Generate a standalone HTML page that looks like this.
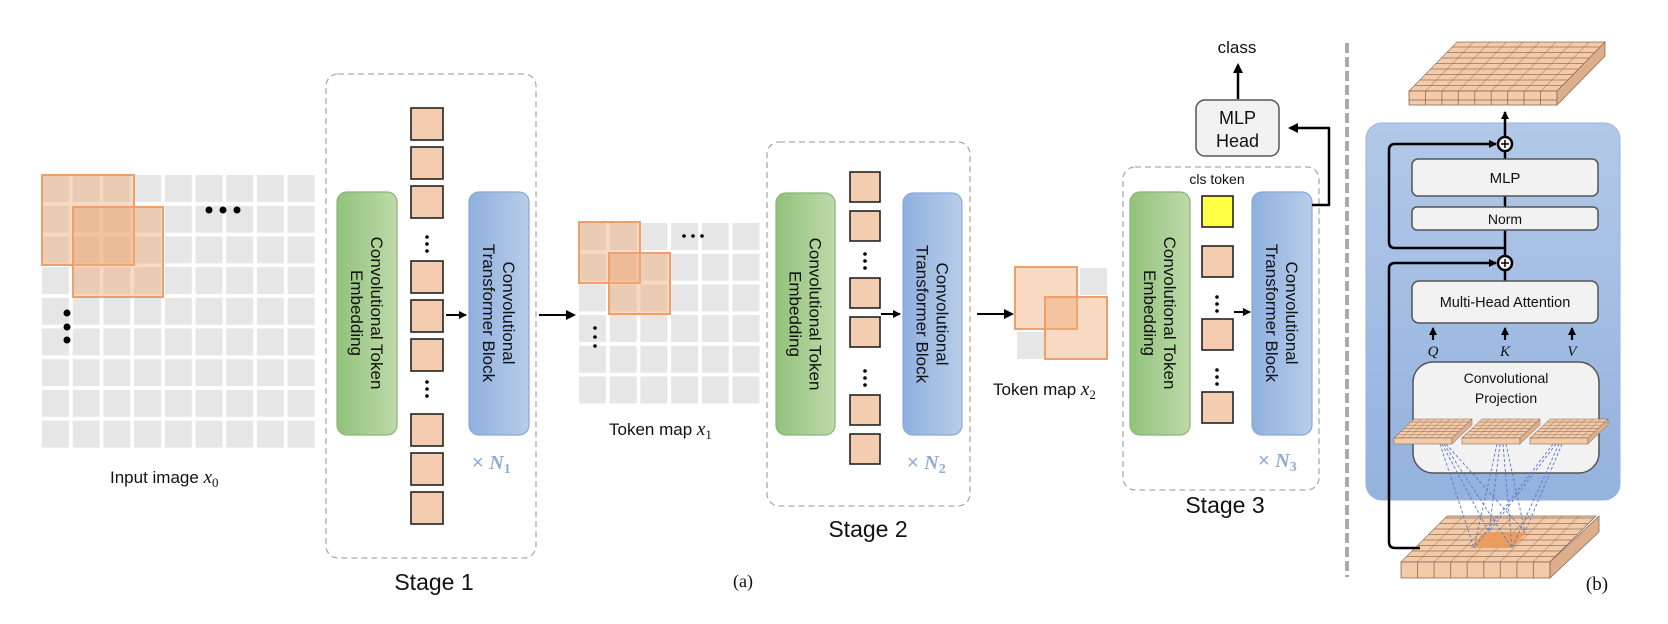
<!DOCTYPE html>
<html><head><meta charset="utf-8"><style>
html,body{margin:0;padding:0;background:#fff;}
svg{display:block;}
text{font-family:"Liberation Sans",sans-serif;fill:#111;}
.serif{font-family:"Liberation Serif",serif;}
</style></head><body>
<svg width="1668" height="624" viewBox="0 0 1668 624" xmlns="http://www.w3.org/2000/svg">
<defs>
<pattern id="gcell" x="42" y="175" width="30.7" height="30.7" patternUnits="userSpaceOnUse"><rect x="0" y="0" width="27" height="27" fill="#e6e6e6"/></pattern>
<pattern id="gcell2" x="579" y="223" width="30.7" height="30.7" patternUnits="userSpaceOnUse"><rect x="0" y="0" width="27" height="27" fill="#e6e6e6"/></pattern>
<linearGradient id="gg" x1="0" x2="1" y1="0" y2="0"><stop offset="0" stop-color="#92c27c"/><stop offset="1" stop-color="#bedaa9"/></linearGradient>
<linearGradient id="bg" x1="0" x2="1" y1="0" y2="0"><stop offset="0" stop-color="#8eb0de"/><stop offset="1" stop-color="#b8cde9"/></linearGradient>
<linearGradient id="pg" x1="0" x2="0" y1="0" y2="1"><stop offset="0" stop-color="#b2c8e8"/><stop offset="1" stop-color="#93b2de"/></linearGradient>
<marker id="ah" markerWidth="10" markerHeight="10" refX="8" refY="5" orient="auto" markerUnits="userSpaceOnUse"><path d="M0,0 L10,5 L0,10 z" fill="#000"/></marker>
<marker id="ahs" markerWidth="8" markerHeight="8" refX="7" refY="4" orient="auto" markerUnits="userSpaceOnUse"><path d="M0,0 L8,4 L0,8 z" fill="#000"/></marker>
<pattern id="iso9" x="0" y="0" width="16.5" height="5.5" patternUnits="userSpaceOnUse"><rect width="16.5" height="5.5" fill="#f4cba9" stroke="#8a6a55" stroke-width="0.6"/></pattern>
<pattern id="isoS" x="0" y="0" width="7.25" height="3.2" patternUnits="userSpaceOnUse"><rect width="7.25" height="3.2" fill="#f4cba9" stroke="#8a6a55" stroke-width="0.5"/></pattern>
<pattern id="frontT" x="1409" y="0" width="16.44" height="20" patternUnits="userSpaceOnUse"><rect width="16.44" height="20" fill="#f4cba9" stroke="#8a6a55" stroke-width="0.8"/></pattern>
<pattern id="frontB" x="1401" y="0" width="16.55" height="20" patternUnits="userSpaceOnUse"><rect width="16.55" height="20" fill="#f4cba9" stroke="#8a6a55" stroke-width="0.8"/></pattern>
</defs>

<!-- Input image grid -->
<rect x="42" y="175" width="273" height="273" fill="url(#gcell)"/>
<rect x="42" y="175" width="92" height="90" fill="rgba(240,170,120,0.45)" stroke="#eea06c" stroke-width="2"/>
<rect x="73" y="207" width="90" height="90" fill="rgba(240,170,120,0.45)" stroke="#eea06c" stroke-width="2"/>
<circle cx="209" cy="210" r="3.5" fill="#000"/><circle cx="223" cy="210" r="3.5" fill="#000"/><circle cx="237" cy="210" r="3.5" fill="#000"/>
<circle cx="67" cy="313" r="3.5" fill="#000"/><circle cx="67" cy="327" r="3.5" fill="#000"/><circle cx="67" cy="340" r="3.5" fill="#000"/>
<text x="110" y="483" font-size="17">Input image <tspan class="serif" font-style="italic" font-size="19">x</tspan><tspan class="serif" font-size="13" dy="4">0</tspan></text>

<!-- Stage 1 -->
<rect x="326" y="74" width="210" height="484" rx="12" fill="none" stroke="#aaa" stroke-width="1.3" stroke-dasharray="6 4"/>
<rect x="337" y="192" width="60" height="243" rx="10" fill="url(#gg)" stroke="#86b673" stroke-width="1.2"/>
<g transform="translate(367,313) rotate(90)" font-size="17" text-anchor="middle"><text x="0" y="-4">Convolutional Token</text><text x="0" y="16">Embedding</text></g>
<g fill="#f4ccb0" stroke="#222" stroke-width="1.6">
<rect x="411" y="108" width="32" height="32"/><rect x="411" y="147" width="32" height="32"/><rect x="411" y="186" width="32" height="32"/>
<rect x="411" y="261" width="32" height="32"/><rect x="411" y="300" width="32" height="32"/><rect x="411" y="339" width="32" height="32"/>
<rect x="411" y="414" width="32" height="32"/><rect x="411" y="453" width="32" height="32"/><rect x="411" y="492" width="32" height="32"/>
</g>
<g fill="#000"><circle cx="427" cy="237" r="1.8"/><circle cx="427" cy="244" r="1.8"/><circle cx="427" cy="251" r="1.8"/>
<circle cx="427" cy="382" r="1.8"/><circle cx="427" cy="389" r="1.8"/><circle cx="427" cy="396" r="1.8"/></g>
<line x1="446" y1="315" x2="466" y2="315" stroke="#000" stroke-width="2" marker-end="url(#ahs)"/>
<rect x="469" y="192" width="60" height="243" rx="10" fill="url(#bg)" stroke="#8aa8d8" stroke-width="1.2"/>
<g transform="translate(499,313) rotate(90)" font-size="17" text-anchor="middle"><text x="0" y="-4">Convolutional</text><text x="0" y="16">Transformer Block</text></g>
<text x="472" y="469" font-size="20" style="fill:#8fa9d8">× <tspan class="serif" font-weight="bold" font-style="italic" style="fill:#8fa9d8">N</tspan><tspan class="serif" font-weight="bold" font-size="14" dy="4" style="fill:#8fa9d8">1</tspan></text>
<text x="434" y="590" font-size="23" text-anchor="middle">Stage 1</text>
<line x1="539" y1="315" x2="574" y2="315" stroke="#000" stroke-width="2" marker-end="url(#ah)"/>

<!-- Token map x1 -->
<rect x="579" y="223" width="181" height="181" fill="url(#gcell2)"/>
<rect x="579" y="222" width="61" height="61" fill="rgba(240,170,120,0.45)" stroke="#eea06c" stroke-width="2"/>
<rect x="609" y="253" width="61" height="61" fill="rgba(240,170,120,0.45)" stroke="#eea06c" stroke-width="2"/>
<g fill="#000"><circle cx="684" cy="236" r="1.8"/><circle cx="693" cy="236" r="1.8"/><circle cx="702" cy="236" r="1.8"/>
<circle cx="595" cy="328" r="1.8"/><circle cx="595" cy="337" r="1.8"/><circle cx="595" cy="346" r="1.8"/></g>
<text x="609" y="435" font-size="17">Token map <tspan class="serif" font-style="italic" font-size="19">x</tspan><tspan class="serif" font-size="13" dy="4">1</tspan></text>

<!-- Stage 2 -->
<rect x="767" y="142" width="203" height="364" rx="12" fill="none" stroke="#aaa" stroke-width="1.3" stroke-dasharray="6 4"/>
<rect x="776" y="193" width="59" height="242" rx="10" fill="url(#gg)" stroke="#86b673" stroke-width="1.2"/>
<g transform="translate(805.5,314) rotate(90)" font-size="17" text-anchor="middle"><text x="0" y="-4">Convolutional Token</text><text x="0" y="16">Embedding</text></g>
<g fill="#f4ccb0" stroke="#222" stroke-width="1.6">
<rect x="850" y="172" width="30" height="30"/><rect x="850" y="211" width="30" height="30"/>
<rect x="850" y="278" width="30" height="30"/><rect x="850" y="317" width="30" height="30"/>
<rect x="850" y="395" width="30" height="30"/><rect x="850" y="434" width="30" height="30"/>
</g>
<g fill="#000"><circle cx="865" cy="254" r="1.8"/><circle cx="865" cy="261" r="1.8"/><circle cx="865" cy="268" r="1.8"/>
<circle cx="865" cy="371" r="1.8"/><circle cx="865" cy="378" r="1.8"/><circle cx="865" cy="385" r="1.8"/></g>
<line x1="881" y1="314" x2="900" y2="314" stroke="#000" stroke-width="2" marker-end="url(#ahs)"/>
<rect x="903" y="193" width="59" height="242" rx="10" fill="url(#bg)" stroke="#8aa8d8" stroke-width="1.2"/>
<g transform="translate(932.5,314) rotate(90)" font-size="17" text-anchor="middle"><text x="0" y="-4">Convolutional</text><text x="0" y="16">Transformer Block</text></g>
<text x="907" y="469" font-size="20" style="fill:#8fa9d8">× <tspan class="serif" font-weight="bold" font-style="italic" style="fill:#8fa9d8">N</tspan><tspan class="serif" font-weight="bold" font-size="14" dy="4" style="fill:#8fa9d8">2</tspan></text>
<text x="868" y="537" font-size="23" text-anchor="middle">Stage 2</text>
<line x1="977" y1="314" x2="1012" y2="314" stroke="#000" stroke-width="2" marker-end="url(#ah)"/>

<!-- Token map x2 -->
<rect x="1080" y="268" width="27" height="27" fill="#e6e6e6"/>
<rect x="1017" y="332" width="27" height="27" fill="#e6e6e6"/>
<rect x="1015" y="267" width="62" height="62" fill="rgba(240,170,120,0.45)" stroke="#eea06c" stroke-width="2"/>
<rect x="1045" y="297" width="62" height="62" fill="rgba(240,170,120,0.45)" stroke="#eea06c" stroke-width="2"/>
<text x="993" y="395" font-size="17">Token map <tspan class="serif" font-style="italic" font-size="19">x</tspan><tspan class="serif" font-size="13" dy="4">2</tspan></text>

<!-- Stage 3 -->
<rect x="1123" y="167" width="196" height="323" rx="12" fill="none" stroke="#aaa" stroke-width="1.3" stroke-dasharray="6 4"/>
<rect x="1130" y="192" width="60" height="243" rx="10" fill="url(#gg)" stroke="#86b673" stroke-width="1.2"/>
<g transform="translate(1160,313) rotate(90)" font-size="17" text-anchor="middle"><text x="0" y="-4">Convolutional Token</text><text x="0" y="16">Embedding</text></g>
<text x="1217" y="184" font-size="14" text-anchor="middle">cls token</text>
<rect x="1202" y="196" width="31" height="31" fill="#ffff44" stroke="#222" stroke-width="1.6"/>
<g fill="#f4ccb0" stroke="#222" stroke-width="1.6">
<rect x="1202" y="246" width="31" height="31"/><rect x="1202" y="319" width="31" height="31"/><rect x="1202" y="392" width="31" height="31"/>
</g>
<g fill="#000"><circle cx="1217" cy="297" r="1.8"/><circle cx="1217" cy="304" r="1.8"/><circle cx="1217" cy="311" r="1.8"/>
<circle cx="1217" cy="370" r="1.8"/><circle cx="1217" cy="377" r="1.8"/><circle cx="1217" cy="384" r="1.8"/></g>
<line x1="1234" y1="312" x2="1250" y2="312" stroke="#000" stroke-width="2" marker-end="url(#ahs)"/>
<rect x="1252" y="192" width="60" height="243" rx="10" fill="url(#bg)" stroke="#8aa8d8" stroke-width="1.2"/>
<g transform="translate(1282,313) rotate(90)" font-size="17" text-anchor="middle"><text x="0" y="-4">Convolutional</text><text x="0" y="16">Transformer Block</text></g>
<text x="1258" y="467" font-size="20" style="fill:#8fa9d8">× <tspan class="serif" font-weight="bold" font-style="italic" style="fill:#8fa9d8">N</tspan><tspan class="serif" font-weight="bold" font-size="14" dy="4" style="fill:#8fa9d8">3</tspan></text>
<text x="1225" y="513" font-size="23" text-anchor="middle">Stage 3</text>

<!-- MLP head -->
<rect x="1196" y="100" width="83" height="56" rx="9" fill="#f2f2f2" stroke="#555" stroke-width="1.5"/>
<text x="1237.5" y="124" font-size="18" text-anchor="middle">MLP</text>
<text x="1237.5" y="147" font-size="18" text-anchor="middle">Head</text>
<line x1="1238" y1="99" x2="1238" y2="65" stroke="#000" stroke-width="2.5" marker-end="url(#ah)"/>
<text x="1237" y="53" font-size="17" text-anchor="middle">class</text>
<polyline points="1312,205 1329,205 1329,128 1290,128" fill="none" stroke="#000" stroke-width="2.5" stroke-linejoin="round" marker-end="url(#ah)"/>

<text x="743" y="587" font-size="18" class="serif" text-anchor="middle">(a)</text>

<!-- divider -->
<line x1="1347" y1="43" x2="1347" y2="577" stroke="#aaa" stroke-width="4" stroke-dasharray="10 4"/>

<!-- Part b -->
<g transform="matrix(1,0,0.98,-1,1409,91)"><rect x="0" y="0" width="148" height="49" fill="url(#iso9)" stroke="#8a6a55" stroke-width="0.8"/></g>
<rect x="1409" y="91" width="148" height="14" fill="url(#frontT)" stroke="#8a6a55" stroke-width="0.8"/>
<polygon points="1557,91 1605,42 1605,56 1557,105" fill="#dcae8c" stroke="#8a6a55" stroke-width="0.8"/>

<rect x="1366" y="123" width="254" height="377" rx="16" fill="url(#pg)" stroke="#9ab3da" stroke-width="1"/>

<g transform="matrix(1,0,1.0,-1,1401,562)"><rect x="0" y="0" width="149" height="46" fill="url(#iso9)" stroke="#8a6a55" stroke-width="0.8"/></g>
<polygon points="1470,548 1513,548 1527,532 1484,532" fill="#eb9a5a" opacity="0.9"/>
<rect x="1401" y="562" width="149" height="16" fill="url(#frontB)" stroke="#8a6a55" stroke-width="0.8"/>
<polygon points="1550,562 1599,516 1599,532 1550,578" fill="#dcae8c" stroke="#8a6a55" stroke-width="0.8"/>

<g stroke="#000" stroke-width="2.5" fill="none">
<line x1="1505" y1="137" x2="1505" y2="112" marker-end="url(#ahs)"/>
<line x1="1505" y1="151" x2="1505" y2="159"/>
<line x1="1505" y1="196" x2="1505" y2="207"/>
<line x1="1505" y1="230" x2="1505" y2="256"/>
<line x1="1505" y1="270" x2="1505" y2="281"/>
<path d="M1505,248 L1395,248 Q1389,248 1389,242 L1389,150 Q1389,144 1395,144 L1496,144" marker-end="url(#ahs)"/>
<path d="M1420,548 L1395,548 Q1389,548 1389,542 L1389,269 Q1389,263 1395,263 L1496,263" marker-end="url(#ahs)"/>
</g>
<g stroke="#000" stroke-width="2.5" fill="#fff"><circle cx="1505" cy="144" r="7"/><circle cx="1505" cy="263" r="7"/></g>
<g stroke="#000" stroke-width="1.5"><line x1="1501" y1="144" x2="1509" y2="144"/><line x1="1505" y1="140" x2="1505" y2="148"/><line x1="1501" y1="263" x2="1509" y2="263"/><line x1="1505" y1="259" x2="1505" y2="267"/></g>

<rect x="1412" y="159" width="186" height="37" rx="6" fill="#f2f2f2" stroke="#555" stroke-width="1.5"/>
<text x="1505" y="183" font-size="15" text-anchor="middle">MLP</text>
<rect x="1412" y="207" width="186" height="23" rx="5" fill="#f2f2f2" stroke="#555" stroke-width="1.5"/>
<text x="1505" y="224" font-size="14" text-anchor="middle">Norm</text>
<rect x="1412" y="281" width="186" height="42" rx="7" fill="#f2f2f2" stroke="#555" stroke-width="1.5"/>
<text x="1505" y="307" font-size="14.5" text-anchor="middle">Multi-Head Attention</text>
<g stroke="#000" stroke-width="2.2"><line x1="1433" y1="340" x2="1433" y2="328" marker-end="url(#ahs)"/><line x1="1505" y1="340" x2="1505" y2="328" marker-end="url(#ahs)"/><line x1="1572" y1="340" x2="1572" y2="328" marker-end="url(#ahs)"/></g>
<g font-size="15" font-style="italic" text-anchor="middle"><text class="serif" x="1433" y="356">Q</text><text class="serif" x="1505" y="356">K</text><text class="serif" x="1572" y="356">V</text></g>

<rect x="1413" y="362" width="186" height="111" rx="20" fill="#f2f2f2" stroke="#555" stroke-width="1.5"/>
<text x="1506" y="383" font-size="14" text-anchor="middle">Convolutional</text>
<text x="1506" y="403" font-size="14" text-anchor="middle">Projection</text>

<g>
<g transform="matrix(1,0,1.05,-1,1394,438)"><rect width="58" height="19" fill="url(#isoS)" stroke="#8a6a55" stroke-width="0.6"/></g>
<rect x="1394" y="438" width="58" height="6" fill="#f4cba9" stroke="#8a6a55" stroke-width="0.6"/>
<polygon points="1452,438 1472,419 1472,425 1452,444" fill="#dcae8c" stroke="#8a6a55" stroke-width="0.5"/>
<g transform="matrix(1,0,1.05,-1,1462,438)"><rect width="58" height="19" fill="url(#isoS)" stroke="#8a6a55" stroke-width="0.6"/></g>
<rect x="1462" y="438" width="58" height="6" fill="#f4cba9" stroke="#8a6a55" stroke-width="0.6"/>
<polygon points="1520,438 1540,419 1540,425 1520,444" fill="#dcae8c" stroke="#8a6a55" stroke-width="0.5"/>
<g transform="matrix(1,0,1.05,-1,1530,438)"><rect width="58" height="19" fill="url(#isoS)" stroke="#8a6a55" stroke-width="0.6"/></g>
<rect x="1530" y="438" width="58" height="6" fill="#f4cba9" stroke="#8a6a55" stroke-width="0.6"/>
<polygon points="1588,438 1608,419 1608,425 1588,444" fill="#dcae8c" stroke="#8a6a55" stroke-width="0.5"/>
</g>

<g stroke="#5a78c8" stroke-width="0.9" stroke-dasharray="3 2" fill="none">
<line x1="1440" y1="444" x2="1474" y2="548"/><line x1="1442" y1="444" x2="1489" y2="532"/><line x1="1444" y1="444" x2="1512" y2="548"/><line x1="1446" y1="444" x2="1525" y2="532"/>
<line x1="1497" y1="444" x2="1474" y2="548"/><line x1="1500" y1="444" x2="1489" y2="532"/><line x1="1503" y1="444" x2="1512" y2="548"/><line x1="1506" y1="444" x2="1525" y2="532"/>
<line x1="1553" y1="444" x2="1474" y2="548"/><line x1="1556" y1="444" x2="1489" y2="532"/><line x1="1559" y1="444" x2="1512" y2="548"/><line x1="1562" y1="444" x2="1525" y2="532"/>
</g>

<text x="1597" y="590" font-size="19" class="serif" text-anchor="middle">(b)</text>
</svg>
</body></html>
